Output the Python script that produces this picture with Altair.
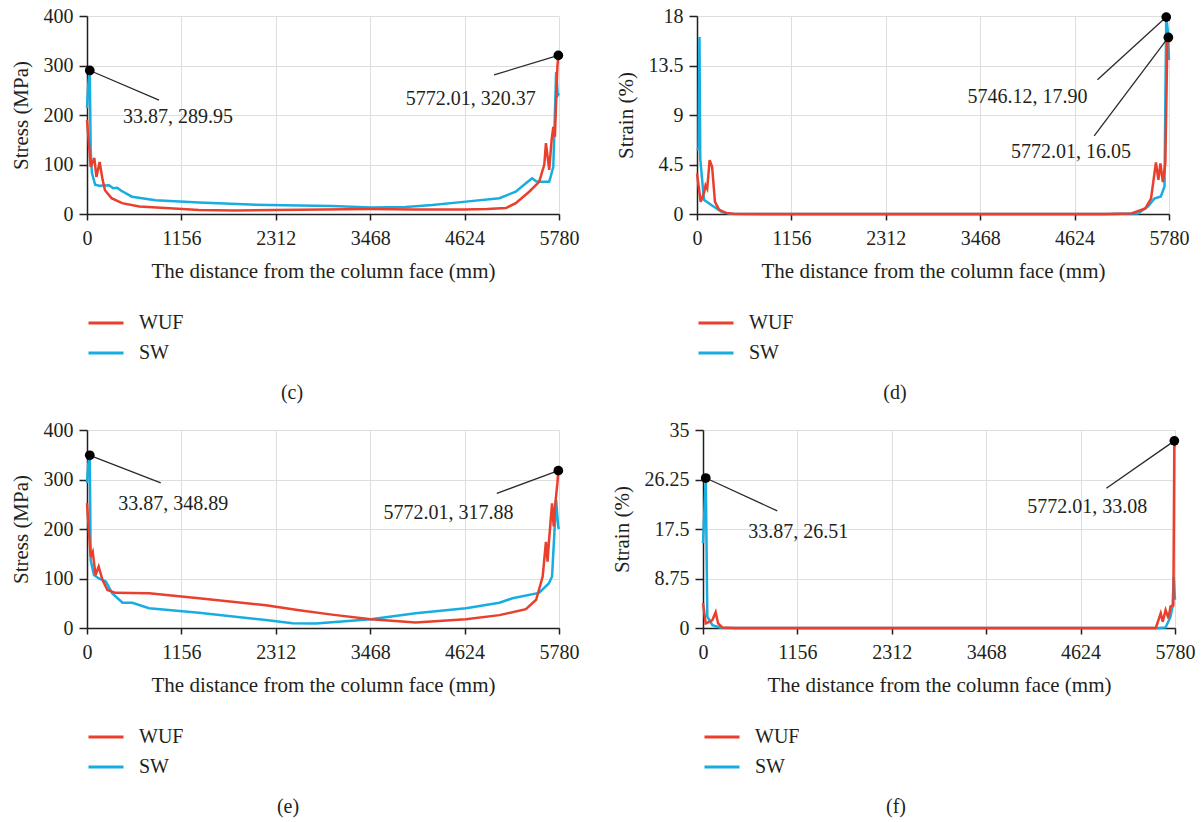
import altair as alt
import pandas as pd

FONT = "Liberation Serif"
TEXT = "#231f20"
RED = "#ea3f2c"
BLUE = "#18ade0"

X_TICKS = [0, 1156, 2312, 3468, 4624, 5780]

# ---- panel (c): stress ----
c_wuf_x = [0, 20, 45, 70, 90, 115, 155, 190, 220, 300, 430, 640, 960, 1370, 1800, 2312, 2900, 3468, 4000, 4624, 4900, 5130, 5250, 5415, 5537, 5600, 5620, 5660, 5690, 5710, 5730, 5760, 5772.01, 5780]
c_wuf_y = [190, 150, 95, 105, 113, 75, 105, 70, 48, 32, 22, 15, 12, 8, 7, 8, 9, 10, 9, 9, 10, 12, 22, 45, 65, 100, 143, 89, 150, 176, 156, 297, 320.37, 320]
c_sw_x = [0, 15, 33.87, 45, 60, 100, 150, 270, 320, 370, 420, 550, 840, 1370, 2000, 2600, 3000, 3480, 3900, 4230, 4640, 5050, 5250, 5375, 5450, 5500, 5540, 5660, 5710, 5745, 5765, 5780]
c_sw_y = [214, 260, 289.95, 129, 83, 59, 57, 58, 52, 53, 47, 35, 28, 23, 19, 17, 16, 13, 14, 18, 25, 32, 45, 62, 72, 66, 65, 65, 95, 287, 240, 244]

# ---- panel (d): strain ----
d_wuf_x = [0, 45, 85, 105, 125, 155, 185, 220, 270, 350, 450, 1000, 3000, 5000, 5320, 5490, 5560, 5620, 5650, 5675, 5705, 5735, 5760, 5772.01, 5780]
d_wuf_y = [3.7, 1.1, 1.9, 2.6, 2.3, 4.9, 4.3, 1.1, 0.4, 0.1, 0.02, 0, 0, 0, 0.05, 0.5, 1.4, 4.7, 3.1, 4.6, 2.9, 4.6, 15.8, 16.05, 15.6]
d_sw_x = [0, 20, 30, 40, 85, 180, 300, 400, 1000, 3000, 5000, 5400, 5525, 5600, 5680, 5725, 5746.12, 5765, 5780]
d_sw_y = [5.8, 6.0, 16.1, 5.0, 1.3, 0.8, 0.2, 0.03, 0, 0, 0, 0.05, 0.7, 1.4, 1.6, 2.5, 17.9, 16.7, 14]

# ---- panel (e): stress ----
e_wuf_x = [0, 45, 70, 105, 143, 190, 250, 350, 760, 1370, 2190, 2600, 3000, 3475, 4025, 4640, 5050, 5375, 5500, 5580, 5620, 5640, 5655, 5695, 5715, 5735, 5760, 5772.01, 5780]
e_wuf_y = [252, 144, 154, 107, 124, 97, 77, 71, 70, 60, 46, 36, 27, 17.5, 11, 17.5, 26, 38, 57, 104, 174, 134, 171, 252, 205, 252, 292, 317.88, 310]
e_sw_x = [0, 15, 33.87, 45, 85, 145, 230, 310, 435, 555, 760, 1370, 2190, 2515, 2800, 3475, 4025, 4640, 5050, 5210, 5535, 5655, 5695, 5745, 5770, 5780]
e_sw_y = [293, 330, 348.89, 137, 107, 100, 94, 70, 51, 51, 40, 31, 16, 9.5, 9, 17.5, 30, 40, 51, 60, 71, 90, 104, 259, 205, 200]

# ---- panel (f): strain ----
f_wuf_x = [0, 33, 75, 115, 155, 185, 235, 400, 3000, 5545, 5605, 5630, 5665, 5700, 5725, 5760, 5772.01, 5780]
f_wuf_y = [4.4, 0.8, 1.1, 1.4, 2.8, 0.8, 0.1, 0, 0, 0, 2.6, 1.1, 3.2, 1.7, 3.8, 4.0, 33.08, 32]
f_sw_x = [0, 15, 33.87, 53, 115, 215, 400, 3000, 5585, 5665, 5725, 5750, 5765, 5780]
f_sw_y = [15, 20, 26.51, 2, 0.5, 0.05, 0, 0, 0, 0.1, 2, 3.8, 9, 5]

# annotations: point (x, y), leader end (lx, ly), label anchor (tx, ty)
c_ann = [(33.87, 289.95, 882, 230, 441, 196), (5772.01, 320.37, 4985, 281, 3903, 232)]
d_ann = [(5746.12, 17.90, 4904, 12.2, 3312, 10.6), (5772.01, 16.05, 4864, 7.1, 3846, 5.66)]
e_ann = [(33.87, 348.89, 903, 293, 384, 250), (5772.01, 317.88, 5019, 272, 3630, 232)]
f_ann = [(33.87, 26.51, 910, 20.7, 555, 17.0), (5772.01, 33.08, 4940, 24.7, 3972, 21.4)]

SERIES = ["WUF", "SW"]


def panel(wx, wy, sx, sy, ymax, yticks, ytitle, ann, caption, cap_x):
    wuf = pd.DataFrame({"x": wx, "y": wy, "series": "WUF", "i": range(len(wx))})
    sw = pd.DataFrame({"x": sx, "y": sy, "series": "SW", "i": range(len(sx))})
    xs = alt.Scale(domain=[0, 5780], nice=False, zero=False)
    ys = alt.Scale(domain=[0, ymax], nice=False)
    xax = alt.Axis(values=X_TICKS, title="The distance from the column face (mm)", labelFlush=False,
                   format="d", tickSize=6, labelPadding=8, titlePadding=12)
    yax = alt.Axis(values=yticks, title=ytitle, tickSize=8, labelPadding=6, titlePadding=12,
                   labelExpr="'' + datum.value")
    color = alt.Color("series:N", scale=alt.Scale(domain=SERIES, range=[RED, BLUE]),
                      legend=alt.Legend(orient="none", legendX=0, legendY=292, title=None,
                                        direction="vertical", symbolType="stroke",
                                        symbolSize=1225, symbolStrokeWidth=3, clipHeight=30,
                                        labelFontSize=20, labelFont=FONT, labelColor=TEXT,
                                        labelOffset=14, rowPadding=0))
    enc = dict(x=alt.X("x:Q", scale=xs, axis=xax), y=alt.Y("y:Q", scale=ys, axis=yax),
               color=color, order="i:Q")
    l_sw = alt.Chart(sw).mark_line(strokeWidth=2.5).encode(**enc)
    l_wuf = alt.Chart(wuf).mark_line(strokeWidth=2.5).encode(**enc)
    a = pd.DataFrame(ann, columns=["px", "py", "lx", "ly", "tx", "ty"])
    a["label"] = [f"{p:.2f}, {q:.2f}" for p, q in zip(a.px, a.py)]
    rules = alt.Chart(a).mark_rule(color="#2a2a2a", strokeWidth=1.3).encode(
        x="px:Q", y="py:Q", x2="lx:Q", y2="ly:Q")
    dots = alt.Chart(a).mark_circle(size=95, color="black", opacity=1).encode(x="px:Q", y="py:Q")
    texts = alt.Chart(a).mark_text(align="left", baseline="middle", fontSize=20, font=FONT,
                                   color=TEXT).encode(x="tx:Q", y="ty:Q", text="label:N")
    cap = alt.Chart(pd.DataFrame({"t": [caption]})).mark_text(
        fontSize=20, font=FONT, color=TEXT, align="center", baseline="middle").encode(
        x=alt.value(cap_x), y=alt.value(377), text="t:N")
    return alt.layer(l_sw, l_wuf, rules, dots, texts, cap).properties(width=472, height=198)


pc = panel(c_wuf_x, c_wuf_y, c_sw_x, c_sw_y, 400, [0, 100, 200, 300, 400], "Stress (MPa)", c_ann, "(c)", 205)
pd_ = panel(d_wuf_x, d_wuf_y, d_sw_x, d_sw_y, 18, [0, 4.5, 9, 13.5, 18], "Strain (%)", d_ann, "(d)", 198)
pe = panel(e_wuf_x, e_wuf_y, e_sw_x, e_sw_y, 400, [0, 100, 200, 300, 400], "Stress (MPa)", e_ann, "(e)", 201)
pf = panel(f_wuf_x, f_wuf_y, f_sw_x, f_sw_y, 35, [0, 8.75, 17.5, 26.25, 35], "Strain (%)", f_ann, "(f)", 193)

row1 = alt.hconcat(pc, pd_, spacing=138, bounds="flush").resolve_scale(color="independent")
row2 = alt.hconcat(pe, pf, spacing=144, bounds="flush").resolve_scale(color="independent")

chart = alt.vconcat(row1, row2, spacing=414, bounds="flush").resolve_scale(
    color="independent"
).properties(
    padding={"left": 10, "top": 6, "right": 5, "bottom": 5},
    background="white",
).configure_view(stroke=None).configure_axis(
    labelFont=FONT, titleFont=FONT, labelFontSize=20, titleFontSize=21, titleFontWeight="normal",
    labelColor=TEXT, titleColor=TEXT, domainColor=TEXT, tickColor=TEXT, domainWidth=1.5,
    tickWidth=1.5, gridColor="#dedede", gridWidth=1, labelOverlap=False,
)

chart.save("out.html", embed_options={"renderer": "svg", "actions": False})
